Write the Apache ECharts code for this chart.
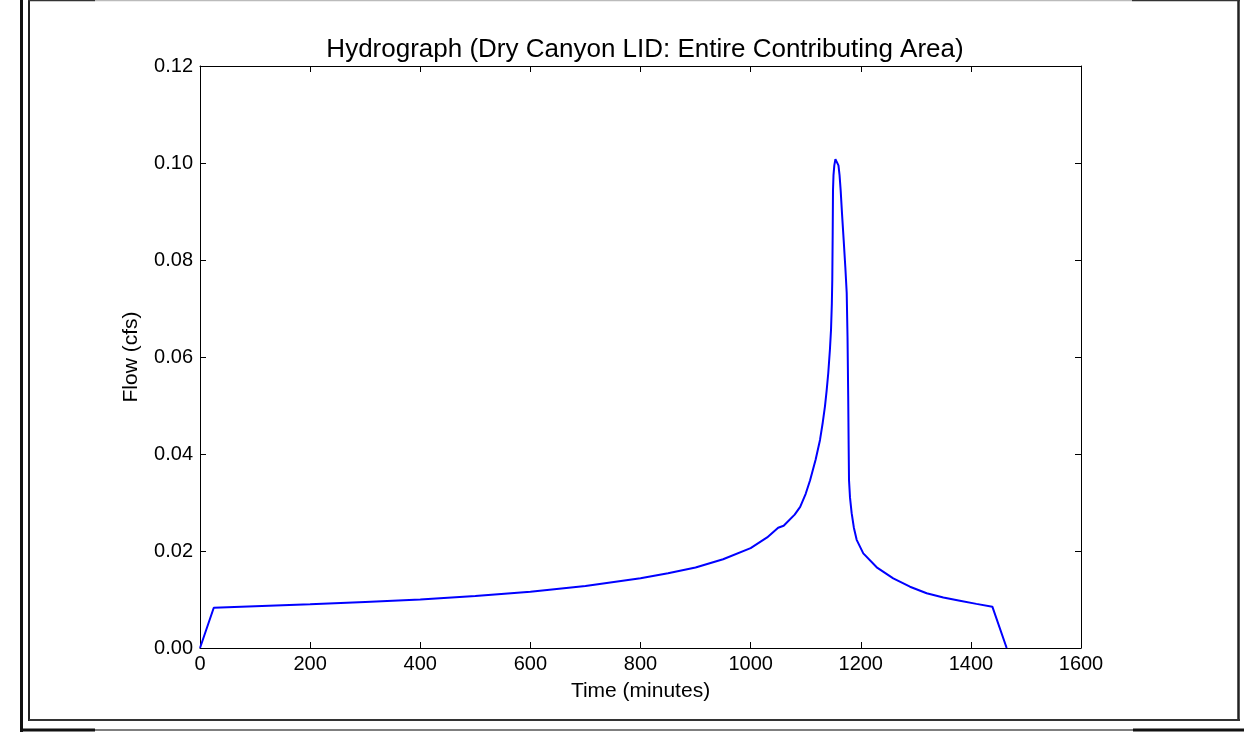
<!DOCTYPE html>
<html>
<head>
<meta charset="utf-8">
<script src="https://cdn.jsdelivr.net/npm/echarts@6/dist/echarts.min.js"></script>
<style>
html,body{margin:0;padding:0;background:#fff;}
#chart{width:1244px;height:738px;}
</style>
</head>
<body>
<div id="chart"></div>
<script>
// Data
var timeMinutes = [0, 25, 100, 200, 300, 400, 500, 600, 700, 800, 850, 900, 950, 1000, 1030, 1050, 1060, 1080, 1090, 1100, 1108, 1118, 1126, 1131, 1135, 1138, 1141, 1144, 1146, 1147.5, 1148.3, 1149, 1149.6, 1150.5, 1152, 1154, 1155.5, 1157.5, 1159.5, 1161.5, 1163.5, 1166, 1169, 1172, 1174.5, 1176, 1177.2, 1178, 1178.7, 1180.5, 1183.5, 1187.5, 1192.6, 1204.6, 1229, 1259, 1289.4, 1319.7, 1350, 1380, 1410, 1439, 1465];
var flowCfs = [0, 0.0083, 0.0086, 0.0090, 0.0095, 0.0100, 0.0107, 0.0116, 0.0128, 0.0144, 0.0154, 0.0166, 0.0183, 0.0206, 0.0228, 0.0248, 0.0252, 0.0275, 0.0291, 0.0318, 0.0346, 0.0388, 0.0429, 0.0465, 0.0498, 0.0530, 0.0567, 0.0615, 0.0656, 0.0710, 0.0759, 0.0850, 0.0944, 0.0975, 0.0995, 0.1008, 0.1010, 0.1005, 0.0995, 0.0975, 0.0944, 0.0895, 0.0841, 0.0785, 0.0732, 0.0640, 0.0520, 0.0420, 0.0346, 0.0310, 0.0278, 0.0248, 0.0223, 0.0195, 0.01664, 0.01437, 0.01264, 0.01128, 0.01040, 0.00976, 0.00910, 0.00852, 0];
var xTicks = [0, 200, 400, 600, 800, 1000, 1200, 1400, 1600];
var yTicks = [0.00, 0.02, 0.04, 0.06, 0.08, 0.10, 0.12];
var titleText = 'Hydrograph (Dry Canyon LID: Entire Contributing Area)';
var xName = 'Time (minutes)';
var yName = 'Flow (cfs)';

var pts = timeMinutes.map(function (t, i) { return [t, flowCfs[i]]; });
var FONT = 'Liberation Sans';

var chart = echarts.init(document.getElementById('chart'), null, {renderer: 'canvas'});

function ax(extra) {
  var base = {
    type: 'value',
    axisLine: {show: true, onZero: false, lineStyle: {color: '#000', width: 1}},
    axisTick: {show: true, inside: true, length: 6, lineStyle: {color: '#000', width: 1}},
    splitLine: {show: false},
    axisLabel: {show: false}
  };
  for (var k in extra) base[k] = extra[k];
  return base;
}

var option = {
  backgroundColor: '#fff',
  animation: false,
  title: {
    text: titleText,
    left: 640, top: 32, textAlign: 'center',
    textStyle: {fontFamily: FONT, fontSize: 26, fontWeight: 'normal', color: '#000'}
  },
  grid: {left: 200, top: 66, width: 881, height: 582},
  xAxis: [
    ax({position: 'bottom', min: xTicks[0], max: xTicks[xTicks.length - 1], interval: 200,
      axisLabel: {show: true, color: '#000', fontFamily: FONT, fontSize: 20, margin: 6,
        formatter: function (v) { return String(v); }},
      name: xName, nameLocation: 'middle', nameGap: 33,
      nameTextStyle: {fontFamily: FONT, fontSize: 21, color: '#000'}}),
    ax({position: 'top', min: xTicks[0], max: xTicks[xTicks.length - 1], interval: 200})
  ],
  yAxis: [
    ax({position: 'left', min: yTicks[0], max: yTicks[yTicks.length - 1], interval: 0.02,
      axisLabel: {show: true, color: '#000', fontFamily: FONT, fontSize: 20, margin: 7,
        formatter: function (v) { return v.toFixed(2); }},
      name: yName, nameLocation: 'middle', nameGap: 58,
      nameTextStyle: {fontFamily: FONT, fontSize: 21, color: '#000'}}),
    ax({position: 'right', min: yTicks[0], max: yTicks[yTicks.length - 1], interval: 0.02})
  ],
  series: [{
    type: 'line',
    xAxisIndex: 0, yAxisIndex: 0,
    data: pts,
    showSymbol: false,
    smooth: false,
    lineStyle: {color: '#0000ff', width: 2},
    clip: true
  }],
  graphic: [
    // page frame
    {type: 'line', shape: {x1: 21.5, y1: 0, x2: 21.5, y2: 732}, style: {stroke: '#111', lineWidth: 3}},
    {type: 'line', shape: {x1: 29, y1: 0, x2: 29, y2: 721}, style: {stroke: '#222', lineWidth: 2}},
    {type: 'line', shape: {x1: 1238.5, y1: 0, x2: 1238.5, y2: 721}, style: {stroke: '#222', lineWidth: 2.5}},
    {type: 'line', shape: {x1: 28, y1: 0.5, x2: 95, y2: 0.5}, style: {stroke: '#333', lineWidth: 1.5}},
    {type: 'line', shape: {x1: 95, y1: 0.5, x2: 1132, y2: 0.5}, style: {stroke: '#bbb', lineWidth: 1.5}},
    {type: 'line', shape: {x1: 1132, y1: 0.5, x2: 1240, y2: 0.5}, style: {stroke: '#333', lineWidth: 1.5}},
    {type: 'line', shape: {x1: 29, y1: 720, x2: 1240, y2: 720}, style: {stroke: '#333', lineWidth: 2}},
    {type: 'line', shape: {x1: 20, y1: 730, x2: 95, y2: 730}, style: {stroke: '#111', lineWidth: 3}},
    {type: 'line', shape: {x1: 95, y1: 730, x2: 1133, y2: 730}, style: {stroke: '#555', lineWidth: 1.5}},
    {type: 'line', shape: {x1: 1133, y1: 730, x2: 1244, y2: 730}, style: {stroke: '#111', lineWidth: 3}}
  ]
};
chart.setOption(option);
</script>
</body>
</html>
